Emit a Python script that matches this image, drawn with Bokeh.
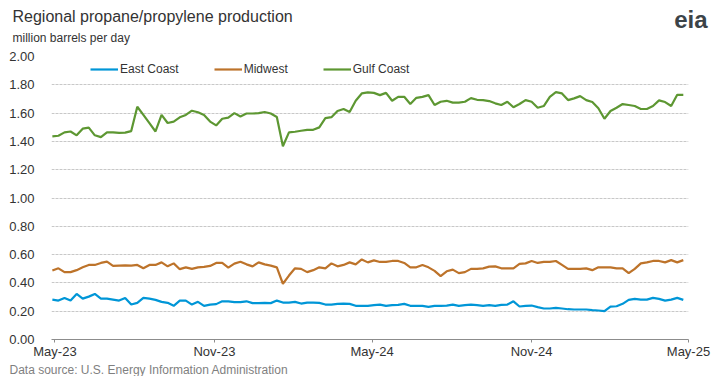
import pandas as pd
from bokeh.plotting import figure
from bokeh.models import (Range1d, FixedTicker, Legend, LegendItem, ColumnDataSource,
                          DatetimeTickFormatter, PrintfTickFormatter, Title)
from bokeh.embed import file_html
from bokeh.resources import INLINE

# ---------------- data (million barrels per day, weekly) ----------------
start_date = "2023-04-28"
east_coast = [
    0.282, 0.275, 0.294, 0.275, 0.322, 0.289, 0.303, 0.322, 0.289, 0.289,
    0.282, 0.275, 0.294, 0.247, 0.259, 0.294, 0.289, 0.280, 0.266, 0.259,
    0.238, 0.275, 0.275, 0.247, 0.266, 0.238,
    0.247, 0.250, 0.270, 0.270, 0.264, 0.264, 0.270, 0.257, 0.257, 0.259,
    0.257, 0.275, 0.261, 0.261, 0.266, 0.254, 0.261, 0.261, 0.259, 0.247,
    0.247, 0.252, 0.254, 0.252, 0.238, 0.238, 0.238,
    0.243, 0.247, 0.238, 0.243, 0.245, 0.252, 0.238, 0.238, 0.238, 0.231,
    0.238, 0.238, 0.240, 0.247, 0.238, 0.243, 0.247, 0.243, 0.238, 0.243,
    0.238, 0.245, 0.247, 0.270, 0.233,
    0.238, 0.240, 0.229, 0.219, 0.219, 0.224, 0.219, 0.214, 0.212, 0.212,
    0.212, 0.207, 0.205, 0.200, 0.233, 0.235, 0.252, 0.280, 0.287, 0.282,
    0.282, 0.294, 0.287, 0.275, 0.282, 0.294, 0.280,
]
midwest = [
    0.487, 0.503, 0.476, 0.476, 0.490, 0.510, 0.527, 0.527, 0.541, 0.550,
    0.520, 0.522, 0.524, 0.522, 0.527, 0.503, 0.527, 0.527, 0.545, 0.517,
    0.538, 0.497, 0.510, 0.499, 0.510, 0.513,
    0.520, 0.541, 0.541, 0.508, 0.536, 0.550, 0.531, 0.517, 0.545, 0.531,
    0.522, 0.510, 0.394, 0.452, 0.503, 0.499, 0.476, 0.490, 0.510, 0.503,
    0.538, 0.517, 0.527, 0.545, 0.531, 0.566, 0.545,
    0.559, 0.548, 0.548, 0.555, 0.555, 0.541, 0.510, 0.510, 0.527, 0.510,
    0.485, 0.448, 0.482, 0.494, 0.469, 0.476, 0.499, 0.499, 0.503, 0.515,
    0.517, 0.503, 0.503, 0.503, 0.534,
    0.538, 0.555, 0.541, 0.548, 0.548, 0.555, 0.527, 0.499, 0.499, 0.499,
    0.503, 0.490, 0.510, 0.510, 0.510, 0.503, 0.503, 0.469, 0.499, 0.538,
    0.545, 0.555, 0.555, 0.545, 0.561, 0.545, 0.561,
]
gulf_coast = [
    1.436, 1.440, 1.464, 1.470, 1.443, 1.490, 1.497, 1.443, 1.430, 1.464,
    1.464, 1.460, 1.462, 1.473, 1.645, 1.587, 1.529, 1.470, 1.587, 1.530,
    1.540, 1.570, 1.587, 1.617, 1.606, 1.587,
    1.540, 1.513, 1.560, 1.568, 1.600, 1.576, 1.597, 1.597, 1.600, 1.608,
    1.597, 1.573, 1.366, 1.464, 1.468, 1.475, 1.482, 1.482, 1.499, 1.564,
    1.571, 1.615, 1.629, 1.608, 1.687, 1.739, 1.746,
    1.743, 1.727, 1.743, 1.687, 1.715, 1.715, 1.664, 1.708, 1.715, 1.727,
    1.657, 1.680, 1.687, 1.674, 1.674, 1.680, 1.706, 1.694, 1.692, 1.685,
    1.669, 1.657, 1.680, 1.641, 1.664,
    1.692, 1.680, 1.638, 1.650, 1.715, 1.748, 1.739, 1.692, 1.704, 1.720,
    1.692, 1.678, 1.634, 1.560, 1.615, 1.638, 1.664, 1.657, 1.650, 1.629,
    1.629, 1.650, 1.690, 1.678, 1.650, 1.729, 1.729,
]
dates = pd.date_range(start_date, periods=len(gulf_coast), freq="7D")

series_names = ["East Coast", "Midwest", "Gulf Coast"]
tick_dates = ["2023-05-01", "2023-11-01", "2024-05-01", "2024-11-01", "2025-05-01"]
tick_labels = ["May-23", "Nov-23", "May-24", "Nov-24", "May-25"]
y_ticks = [0.0, 0.2, 0.4, 0.6, 0.8, 1.0, 1.2, 1.4, 1.6, 1.8, 2.0]

# ---------------- layout ----------------
W, H = 711, 376
FL, FR, FT, FB = 51, 23, 56, 36
FONT = "Liberation Sans"
TXT = "#333333"
X0, X1 = pd.Timestamp("2023-04-27"), pd.Timestamp("2025-05-01")

p = figure(width=W, height=H, x_axis_type="datetime", output_backend="svg",
           toolbar_location=None,
           x_range=Range1d(X0, X1), y_range=Range1d(0.0, 2.0),
           min_border_left=FL, min_border_right=FR,
           min_border_top=FT, min_border_bottom=FB)
p.outline_line_color = None
p.background_fill_color = "white"
p.border_fill_color = "white"

src = ColumnDataSource(dict(date=dates, east=east_coast, midwest=midwest, gulf=gulf_coast))
colors = ["#0096d7", "#bd732a", "#5d9732"]
r1 = p.line("date", "east", source=src, line_color=colors[0], line_width=2.2)
r2 = p.line("date", "midwest", source=src, line_color=colors[1], line_width=2.2)
r3 = p.line("date", "gulf", source=src, line_color=colors[2], line_width=2.2)

# axes
tick_ms = [int(pd.Timestamp(d).value // 10**6) for d in tick_dates]
xa = p.xaxis[0]
xa.ticker = FixedTicker(ticks=tick_ms)
xa.formatter = DatetimeTickFormatter(days="%b-%y", months="%b-%y", years="%b-%y")
xa.major_label_overrides = {t: l for t, l in zip(tick_ms, tick_labels)}
xa.axis_line_color = "#8c8c8c"
xa.major_tick_line_color = "#8c8c8c"
xa.major_tick_out = 3
xa.major_tick_in = 0
xa.minor_tick_line_color = None
xa.major_label_text_font = FONT
xa.major_label_text_font_size = "13px"
xa.major_label_text_color = TXT
xa.major_label_standoff = 1

ya = p.yaxis[0]
ya.ticker = FixedTicker(ticks=y_ticks)
ya.formatter = PrintfTickFormatter(format="%.2f")
ya.axis_line_color = None
ya.major_tick_line_color = None
ya.minor_tick_line_color = None
ya.major_label_text_font = FONT
ya.major_label_text_font_size = "13px"
ya.major_label_text_color = TXT
ya.major_label_standoff = 11

p.xgrid.grid_line_color = None
p.ygrid.ticker = FixedTicker(ticks=y_ticks[1:])
p.ygrid.grid_line_color = "#c8c8c8"
p.ygrid.grid_line_dash = "3 1"
p.ygrid.grid_line_width = 1

# legend
fb_px = H - FB
legend = Legend(items=[LegendItem(label=n, renderers=[r]) for n, r in zip(series_names, [r1, r2, r3])],
                orientation="horizontal", location=(39, fb_px - 70 - 7),
                glyph_width=28, glyph_height=14, label_standoff=2, spacing=35,
                padding=0, margin=0, border_line_color=None,
                background_fill_alpha=0,
                label_text_font=FONT, label_text_font_size="12px",
                label_text_color=TXT)
p.add_layout(legend, "center")

# header rows, stacked outward from the plot frame
# (panel height = 2 + text height + standoff; text sits standoff/2 above panel bottom)
def th(px, k=1.15):
    return k * px

s_sub = 22.2
p.add_layout(Title(text="million barrels per day", align="left", offset=-39,
                   standoff=s_sub, text_font=FONT, text_font_size="12px",
                   text_font_style="normal", text_color=TXT), "above")
# eia logo word: zero-height panel, text pulled below its panel
p.add_layout(Title(text="eia", align="right", offset=-19, standoff=-(2 + th(24)),
                   text_font=FONT, text_font_size="24px", text_font_style="bold",
                   text_color="#3c4448"), "above")
s_main = -13.6
p.add_layout(Title(text="Regional propane/propylene production", align="left", offset=-39,
                   standoff=s_main, text_font=FONT, text_font_size="16px",
                   text_font_style="normal", text_color=TXT), "above")
# spacer so the header rows fill the top border exactly
used = (2 + th(12) + s_sub) + 0 + (2 + th(16) + s_main)
rest = FT - used
p.add_layout(Title(text=" ", align="left", standoff=rest - (2 + th(12)),
                   text_font=FONT, text_font_size="12px", text_color="white"), "above")

p.add_layout(Title(text="Data source: U.S. Energy Information Administration", align="left",
                   offset=-42, standoff=-1, text_font=FONT, text_font_size="12px",
                   text_font_style="normal", text_color="#7f7f7f"), "below")

open("out.html", "w").write(file_html(p, INLINE))
